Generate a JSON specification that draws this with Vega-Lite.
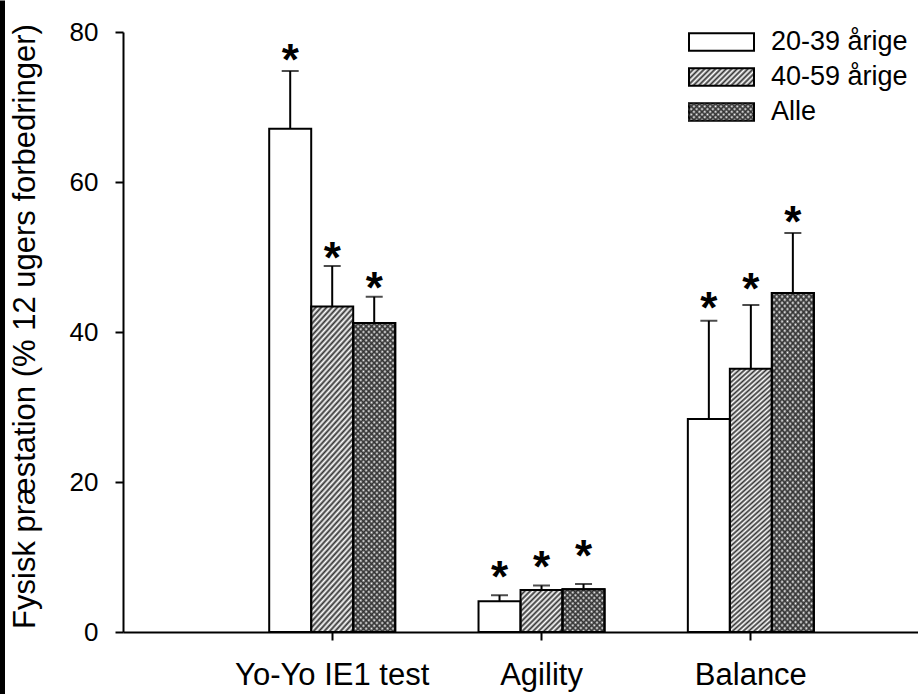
{
"$schema": "https://vega.github.io/schema/vega-lite/v6.json",
"width": 795, "height": 600,
"autosize": {"type": "none"},
"padding": {"left": 123, "top": 32, "right": 0, "bottom": 62},
"background": "white",
"data": {"values": [
 {"cat": "Yo-Yo IE1 test", "series": "20-39 årige", "value": 67.1, "upper": 74.8, "star": 77.6},
 {"cat": "Yo-Yo IE1 test", "series": "40-59 årige", "value": 43.4, "upper": 48.8, "star": 51.2},
 {"cat": "Yo-Yo IE1 test", "series": "Alle", "value": 41.2, "upper": 44.7, "star": 47.2},
 {"cat": "Agility", "series": "20-39 årige", "value": 4.1, "upper": 4.9, "star": 8.7},
 {"cat": "Agility", "series": "40-59 årige", "value": 5.6, "upper": 6.2, "star": 10.0},
 {"cat": "Agility", "series": "Alle", "value": 5.7, "upper": 6.4, "star": 11.5},
 {"cat": "Balance", "series": "20-39 årige", "value": 28.4, "upper": 41.5, "star": 44.5},
 {"cat": "Balance", "series": "40-59 årige", "value": 35.1, "upper": 43.6, "star": 47.1},
 {"cat": "Balance", "series": "Alle", "value": 45.2, "upper": 53.2, "star": 56.0}
]},
"layer": [
{
"layer": [
 {
  "mark": {"type": "bar", "stroke": "black", "strokeWidth": 2},
  "encoding": {
   "x": {"field": "cat", "type": "nominal", "scale": {"domain": ["Yo-Yo IE1 test", "Agility", "Balance"], "paddingInner": 0.398, "paddingOuter": 0.598, "align": 0.584},
     "axis": {"title": null, "labelAngle": 0, "labelFontSize": 31, "labelLimit": 400, "labelPadding": 20, "tickSize": 8, "tickWidth": 2, "tickColor": "black", "domainColor": "black", "domainWidth": 2, "labelColor": "black"}},
   "xOffset": {"field": "series", "type": "nominal", "scale": {"domain": ["20-39 årige", "40-59 årige", "Alle"], "paddingInner": 0, "paddingOuter": 0}},
   "y": {"field": "value", "type": "quantitative", "scale": {"domain": [0, 80], "nice": false},
     "axis": {"values": [0, 20, 40, 60, 80], "title": "Fysisk præstation (% 12 ugers forbedringer)", "titleFontSize": 31, "titleFontWeight": "normal", "titleAngle": 270, "titleX": -98, "titleY": 294, "titleAlign": "center", "titleBaseline": "middle", "labelFontSize": 26, "labelPadding": 17, "tickSize": 8, "tickWidth": 2, "tickColor": "black", "domainColor": "black", "domainWidth": 2, "labelColor": "black", "grid": false}},
   "fill": {
     "condition": [
      {"test": "datum.series !== '20-39 årige' && datum.cat === 'Agility'", "value": {"gradient": "linear", "x1": 0, "y1": 0, "x2": 4, "y2": 4, "stops": [{"offset":0,"color":"#333"},{"offset":0.008,"color":"#3330"},{"offset":0.016,"color":"#333"},{"offset":0.024,"color":"#3330"},{"offset":0.032,"color":"#333"},{"offset":0.04,"color":"#3330"},{"offset":0.048,"color":"#333"},{"offset":0.056,"color":"#3330"},{"offset":0.064,"color":"#333"},{"offset":0.072,"color":"#3330"},{"offset":0.08,"color":"#333"},{"offset":0.088,"color":"#3330"},{"offset":0.096,"color":"#333"},{"offset":0.104,"color":"#3330"},{"offset":0.112,"color":"#333"},{"offset":0.12,"color":"#3330"},{"offset":0.128,"color":"#333"},{"offset":0.136,"color":"#3330"},{"offset":0.144,"color":"#333"},{"offset":0.152,"color":"#3330"},{"offset":0.16,"color":"#333"},{"offset":0.168,"color":"#3330"},{"offset":0.176,"color":"#333"},{"offset":0.184,"color":"#3330"},{"offset":0.192,"color":"#333"},{"offset":0.2,"color":"#3330"},{"offset":0.208,"color":"#333"},{"offset":0.216,"color":"#3330"},{"offset":0.224,"color":"#333"},{"offset":0.232,"color":"#3330"},{"offset":0.24,"color":"#333"},{"offset":0.248,"color":"#3330"},{"offset":0.256,"color":"#333"}]}},
      {"test": "datum.series !== '20-39 årige'", "value": {"gradient": "linear", "x1": 0, "y1": 0, "x2": 0.16, "y2": 1.12, "stops": [{"offset":0,"color":"#333"},{"offset":0.008,"color":"#3330"},{"offset":0.016,"color":"#333"},{"offset":0.024,"color":"#3330"},{"offset":0.032,"color":"#333"},{"offset":0.04,"color":"#3330"},{"offset":0.048,"color":"#333"},{"offset":0.056,"color":"#3330"},{"offset":0.064,"color":"#333"},{"offset":0.072,"color":"#3330"},{"offset":0.08,"color":"#333"},{"offset":0.088,"color":"#3330"},{"offset":0.096,"color":"#333"},{"offset":0.104,"color":"#3330"},{"offset":0.112,"color":"#333"},{"offset":0.12,"color":"#3330"},{"offset":0.128,"color":"#333"},{"offset":0.136,"color":"#3330"},{"offset":0.144,"color":"#333"},{"offset":0.152,"color":"#3330"},{"offset":0.16,"color":"#333"},{"offset":0.168,"color":"#3330"},{"offset":0.176,"color":"#333"},{"offset":0.184,"color":"#3330"},{"offset":0.192,"color":"#333"},{"offset":0.2,"color":"#3330"},{"offset":0.208,"color":"#333"},{"offset":0.216,"color":"#3330"},{"offset":0.224,"color":"#333"},{"offset":0.232,"color":"#3330"},{"offset":0.24,"color":"#333"},{"offset":0.248,"color":"#3330"},{"offset":0.256,"color":"#333"},{"offset":0.264,"color":"#3330"},{"offset":0.272,"color":"#333"},{"offset":0.28,"color":"#3330"},{"offset":0.288,"color":"#333"},{"offset":0.296,"color":"#3330"},{"offset":0.304,"color":"#333"},{"offset":0.312,"color":"#3330"},{"offset":0.32,"color":"#333"},{"offset":0.328,"color":"#3330"},{"offset":0.336,"color":"#333"},{"offset":0.344,"color":"#3330"},{"offset":0.352,"color":"#333"},{"offset":0.36,"color":"#3330"},{"offset":0.368,"color":"#333"},{"offset":0.376,"color":"#3330"},{"offset":0.384,"color":"#333"},{"offset":0.392,"color":"#3330"},{"offset":0.4,"color":"#333"},{"offset":0.408,"color":"#3330"},{"offset":0.416,"color":"#333"},{"offset":0.424,"color":"#3330"},{"offset":0.432,"color":"#333"},{"offset":0.44,"color":"#3330"},{"offset":0.448,"color":"#333"},{"offset":0.456,"color":"#3330"},{"offset":0.464,"color":"#333"},{"offset":0.472,"color":"#3330"},{"offset":0.48,"color":"#333"},{"offset":0.488,"color":"#3330"},{"offset":0.496,"color":"#333"},{"offset":0.504,"color":"#3330"},{"offset":0.512,"color":"#333"},{"offset":0.52,"color":"#3330"},{"offset":0.528,"color":"#333"},{"offset":0.536,"color":"#3330"},{"offset":0.544,"color":"#333"},{"offset":0.552,"color":"#3330"},{"offset":0.56,"color":"#333"},{"offset":0.568,"color":"#3330"},{"offset":0.576,"color":"#333"},{"offset":0.584,"color":"#3330"},{"offset":0.592,"color":"#333"},{"offset":0.6,"color":"#3330"},{"offset":0.608,"color":"#333"},{"offset":0.616,"color":"#3330"},{"offset":0.624,"color":"#333"},{"offset":0.632,"color":"#3330"},{"offset":0.64,"color":"#333"},{"offset":0.648,"color":"#3330"},{"offset":0.656,"color":"#333"},{"offset":0.664,"color":"#3330"},{"offset":0.672,"color":"#333"},{"offset":0.68,"color":"#3330"},{"offset":0.688,"color":"#333"},{"offset":0.696,"color":"#3330"},{"offset":0.704,"color":"#333"},{"offset":0.712,"color":"#3330"},{"offset":0.72,"color":"#333"},{"offset":0.728,"color":"#3330"},{"offset":0.736,"color":"#333"},{"offset":0.744,"color":"#3330"},{"offset":0.752,"color":"#333"},{"offset":0.76,"color":"#3330"},{"offset":0.768,"color":"#333"},{"offset":0.776,"color":"#3330"},{"offset":0.784,"color":"#333"},{"offset":0.792,"color":"#3330"},{"offset":0.8,"color":"#333"},{"offset":0.808,"color":"#3330"},{"offset":0.816,"color":"#333"},{"offset":0.824,"color":"#3330"},{"offset":0.832,"color":"#333"},{"offset":0.84,"color":"#3330"},{"offset":0.848,"color":"#333"},{"offset":0.856,"color":"#3330"},{"offset":0.864,"color":"#333"},{"offset":0.872,"color":"#3330"},{"offset":0.88,"color":"#333"},{"offset":0.888,"color":"#3330"},{"offset":0.896,"color":"#333"},{"offset":0.904,"color":"#3330"},{"offset":0.912,"color":"#333"},{"offset":0.92,"color":"#3330"},{"offset":0.928,"color":"#333"},{"offset":0.936,"color":"#3330"},{"offset":0.944,"color":"#333"},{"offset":0.952,"color":"#3330"},{"offset":0.96,"color":"#333"},{"offset":0.968,"color":"#3330"},{"offset":0.976,"color":"#333"},{"offset":0.984,"color":"#3330"},{"offset":0.992,"color":"#333"},{"offset":1,"color":"#3330"}]}}
     ],
     "value": "white"
   }
  }
 },
 {
  "transform": [{"filter": "datum.series === 'Alle'"}],
  "mark": {"type": "bar", "stroke": "black", "strokeWidth": 2},
  "encoding": {
   "x": {"field": "cat", "type": "nominal"},
   "xOffset": {"field": "series", "type": "nominal"},
   "y": {"field": "value", "type": "quantitative"},
   "fill": {
     "condition": {"test": "datum.cat === 'Agility'", "value": {"gradient": "linear", "x1": 1, "y1": 0, "x2": -3, "y2": 4, "stops": [{"offset":0,"color":"#333"},{"offset":0.008,"color":"#3330"},{"offset":0.016,"color":"#333"},{"offset":0.024,"color":"#3330"},{"offset":0.032,"color":"#333"},{"offset":0.04,"color":"#3330"},{"offset":0.048,"color":"#333"},{"offset":0.056,"color":"#3330"},{"offset":0.064,"color":"#333"},{"offset":0.072,"color":"#3330"},{"offset":0.08,"color":"#333"},{"offset":0.088,"color":"#3330"},{"offset":0.096,"color":"#333"},{"offset":0.104,"color":"#3330"},{"offset":0.112,"color":"#333"},{"offset":0.12,"color":"#3330"},{"offset":0.128,"color":"#333"},{"offset":0.136,"color":"#3330"},{"offset":0.144,"color":"#333"},{"offset":0.152,"color":"#3330"},{"offset":0.16,"color":"#333"},{"offset":0.168,"color":"#3330"},{"offset":0.176,"color":"#333"},{"offset":0.184,"color":"#3330"},{"offset":0.192,"color":"#333"},{"offset":0.2,"color":"#3330"},{"offset":0.208,"color":"#333"},{"offset":0.216,"color":"#3330"},{"offset":0.224,"color":"#333"},{"offset":0.232,"color":"#3330"},{"offset":0.24,"color":"#333"},{"offset":0.248,"color":"#3330"},{"offset":0.256,"color":"#333"}]}},
     "value": {"gradient": "linear", "x1": 1, "y1": 0, "x2": 0.84, "y2": 1.12, "stops": [{"offset":0,"color":"#333"},{"offset":0.008,"color":"#3330"},{"offset":0.016,"color":"#333"},{"offset":0.024,"color":"#3330"},{"offset":0.032,"color":"#333"},{"offset":0.04,"color":"#3330"},{"offset":0.048,"color":"#333"},{"offset":0.056,"color":"#3330"},{"offset":0.064,"color":"#333"},{"offset":0.072,"color":"#3330"},{"offset":0.08,"color":"#333"},{"offset":0.088,"color":"#3330"},{"offset":0.096,"color":"#333"},{"offset":0.104,"color":"#3330"},{"offset":0.112,"color":"#333"},{"offset":0.12,"color":"#3330"},{"offset":0.128,"color":"#333"},{"offset":0.136,"color":"#3330"},{"offset":0.144,"color":"#333"},{"offset":0.152,"color":"#3330"},{"offset":0.16,"color":"#333"},{"offset":0.168,"color":"#3330"},{"offset":0.176,"color":"#333"},{"offset":0.184,"color":"#3330"},{"offset":0.192,"color":"#333"},{"offset":0.2,"color":"#3330"},{"offset":0.208,"color":"#333"},{"offset":0.216,"color":"#3330"},{"offset":0.224,"color":"#333"},{"offset":0.232,"color":"#3330"},{"offset":0.24,"color":"#333"},{"offset":0.248,"color":"#3330"},{"offset":0.256,"color":"#333"},{"offset":0.264,"color":"#3330"},{"offset":0.272,"color":"#333"},{"offset":0.28,"color":"#3330"},{"offset":0.288,"color":"#333"},{"offset":0.296,"color":"#3330"},{"offset":0.304,"color":"#333"},{"offset":0.312,"color":"#3330"},{"offset":0.32,"color":"#333"},{"offset":0.328,"color":"#3330"},{"offset":0.336,"color":"#333"},{"offset":0.344,"color":"#3330"},{"offset":0.352,"color":"#333"},{"offset":0.36,"color":"#3330"},{"offset":0.368,"color":"#333"},{"offset":0.376,"color":"#3330"},{"offset":0.384,"color":"#333"},{"offset":0.392,"color":"#3330"},{"offset":0.4,"color":"#333"},{"offset":0.408,"color":"#3330"},{"offset":0.416,"color":"#333"},{"offset":0.424,"color":"#3330"},{"offset":0.432,"color":"#333"},{"offset":0.44,"color":"#3330"},{"offset":0.448,"color":"#333"},{"offset":0.456,"color":"#3330"},{"offset":0.464,"color":"#333"},{"offset":0.472,"color":"#3330"},{"offset":0.48,"color":"#333"},{"offset":0.488,"color":"#3330"},{"offset":0.496,"color":"#333"},{"offset":0.504,"color":"#3330"},{"offset":0.512,"color":"#333"},{"offset":0.52,"color":"#3330"},{"offset":0.528,"color":"#333"},{"offset":0.536,"color":"#3330"},{"offset":0.544,"color":"#333"},{"offset":0.552,"color":"#3330"},{"offset":0.56,"color":"#333"},{"offset":0.568,"color":"#3330"},{"offset":0.576,"color":"#333"},{"offset":0.584,"color":"#3330"},{"offset":0.592,"color":"#333"},{"offset":0.6,"color":"#3330"},{"offset":0.608,"color":"#333"},{"offset":0.616,"color":"#3330"},{"offset":0.624,"color":"#333"},{"offset":0.632,"color":"#3330"},{"offset":0.64,"color":"#333"},{"offset":0.648,"color":"#3330"},{"offset":0.656,"color":"#333"},{"offset":0.664,"color":"#3330"},{"offset":0.672,"color":"#333"},{"offset":0.68,"color":"#3330"},{"offset":0.688,"color":"#333"},{"offset":0.696,"color":"#3330"},{"offset":0.704,"color":"#333"},{"offset":0.712,"color":"#3330"},{"offset":0.72,"color":"#333"},{"offset":0.728,"color":"#3330"},{"offset":0.736,"color":"#333"},{"offset":0.744,"color":"#3330"},{"offset":0.752,"color":"#333"},{"offset":0.76,"color":"#3330"},{"offset":0.768,"color":"#333"},{"offset":0.776,"color":"#3330"},{"offset":0.784,"color":"#333"},{"offset":0.792,"color":"#3330"},{"offset":0.8,"color":"#333"},{"offset":0.808,"color":"#3330"},{"offset":0.816,"color":"#333"},{"offset":0.824,"color":"#3330"},{"offset":0.832,"color":"#333"},{"offset":0.84,"color":"#3330"},{"offset":0.848,"color":"#333"},{"offset":0.856,"color":"#3330"},{"offset":0.864,"color":"#333"},{"offset":0.872,"color":"#3330"},{"offset":0.88,"color":"#333"},{"offset":0.888,"color":"#3330"},{"offset":0.896,"color":"#333"},{"offset":0.904,"color":"#3330"},{"offset":0.912,"color":"#333"},{"offset":0.92,"color":"#3330"},{"offset":0.928,"color":"#333"},{"offset":0.936,"color":"#3330"},{"offset":0.944,"color":"#333"},{"offset":0.952,"color":"#3330"},{"offset":0.96,"color":"#333"},{"offset":0.968,"color":"#3330"},{"offset":0.976,"color":"#333"},{"offset":0.984,"color":"#3330"},{"offset":0.992,"color":"#333"},{"offset":1,"color":"#3330"}]}
   }
  }
 },
 {
  "mark": {"type": "rule", "color": "black", "strokeWidth": 2},
  "encoding": {
   "x": {"field": "cat", "type": "nominal"},
   "xOffset": {"field": "series", "type": "nominal"},
   "y": {"field": "value", "type": "quantitative"},
   "y2": {"field": "upper"}
  }
 },
 {
  "mark": {"type": "tick", "color": "black", "thickness": 2, "size": 17},
  "encoding": {
   "x": {"field": "cat", "type": "nominal"},
   "xOffset": {"field": "series", "type": "nominal"},
   "y": {"field": "upper", "type": "quantitative"}
  }
 },
 {
  "mark": {"type": "text", "text": "*", "fontSize": 44, "fontWeight": "bold", "font": "Liberation Sans", "color": "black", "baseline": "alphabetic", "dy": 25},
  "encoding": {
   "x": {"field": "cat", "type": "nominal"},
   "xOffset": {"field": "series", "type": "nominal"},
   "y": {"field": "star", "type": "quantitative"}
  }
 },
 {
  "transform": [{"filter": "false"}],
  "mark": {"type": "bar", "fill": "white", "stroke": "black", "strokeWidth": 2},
  "encoding": {
   "x": {"field": "cat", "type": "nominal"},
   "y": {"field": "value", "type": "quantitative"},
   "opacity": {"field": "series", "type": "nominal",
     "scale": {"domain": ["20-39 årige"], "range": [1]},
     "legend": {"orient": "none", "legendX": 565, "legendY": -7.5, "title": null, "padding": 0,
       "symbolType": "M-1,-0.27H1V0.27H-1Z", "symbolSize": 4225, "symbolStrokeWidth": 2,
       "labelFontSize": 27, "labelColor": "black", "labelOffset": 16, "clipHeight": 35, "rowPadding": 0}
   }
  }
 },
 {
  "transform": [{"filter": "false"}],
  "mark": {"type": "bar", "stroke": "black", "strokeWidth": 2, "fill": {"gradient": "linear", "x1": 0, "y1": 0, "x2": 4.85, "y2": 1.315, "stops": [{"offset":0,"color":"#333"},{"offset":0.008,"color":"#3330"},{"offset":0.016,"color":"#333"},{"offset":0.024,"color":"#3330"},{"offset":0.032,"color":"#333"},{"offset":0.04,"color":"#3330"},{"offset":0.048,"color":"#333"},{"offset":0.056,"color":"#3330"},{"offset":0.064,"color":"#333"},{"offset":0.072,"color":"#3330"},{"offset":0.08,"color":"#333"},{"offset":0.088,"color":"#3330"},{"offset":0.096,"color":"#333"},{"offset":0.104,"color":"#3330"},{"offset":0.112,"color":"#333"},{"offset":0.12,"color":"#3330"},{"offset":0.128,"color":"#333"},{"offset":0.136,"color":"#3330"},{"offset":0.144,"color":"#333"},{"offset":0.152,"color":"#3330"},{"offset":0.16,"color":"#333"},{"offset":0.168,"color":"#3330"},{"offset":0.176,"color":"#333"},{"offset":0.184,"color":"#3330"},{"offset":0.192,"color":"#333"},{"offset":0.2,"color":"#3330"},{"offset":0.208,"color":"#333"},{"offset":0.216,"color":"#3330"},{"offset":0.224,"color":"#333"},{"offset":0.232,"color":"#3330"},{"offset":0.24,"color":"#333"},{"offset":0.248,"color":"#3330"},{"offset":0.256,"color":"#333"}]}},
  "encoding": {
   "x": {"field": "cat", "type": "nominal"},
   "y": {"field": "value", "type": "quantitative"},
   "opacity": {"field": "series", "type": "nominal",
     "scale": {"domain": ["40-59 årige", "Alle"], "range": [1, 1]},
     "legend": {"orient": "none", "legendX": 565, "legendY": 27.5, "title": null, "padding": 0,
       "symbolType": "M-1,-0.27H1V0.27H-1Z", "symbolSize": 4225, "symbolStrokeWidth": 2,
       "labelFontSize": 27, "labelColor": "black", "labelOffset": 16, "clipHeight": 35, "rowPadding": 0}
   }
  }
 },
 {
  "transform": [{"filter": "false"}],
  "mark": {"type": "bar", "strokeWidth": 0, "fill": {"gradient": "linear", "x1": 1, "y1": 0, "x2": -3.85, "y2": 1.315, "stops": [{"offset":0,"color":"#333"},{"offset":0.008,"color":"#3330"},{"offset":0.016,"color":"#333"},{"offset":0.024,"color":"#3330"},{"offset":0.032,"color":"#333"},{"offset":0.04,"color":"#3330"},{"offset":0.048,"color":"#333"},{"offset":0.056,"color":"#3330"},{"offset":0.064,"color":"#333"},{"offset":0.072,"color":"#3330"},{"offset":0.08,"color":"#333"},{"offset":0.088,"color":"#3330"},{"offset":0.096,"color":"#333"},{"offset":0.104,"color":"#3330"},{"offset":0.112,"color":"#333"},{"offset":0.12,"color":"#3330"},{"offset":0.128,"color":"#333"},{"offset":0.136,"color":"#3330"},{"offset":0.144,"color":"#333"},{"offset":0.152,"color":"#3330"},{"offset":0.16,"color":"#333"},{"offset":0.168,"color":"#3330"},{"offset":0.176,"color":"#333"},{"offset":0.184,"color":"#3330"},{"offset":0.192,"color":"#333"},{"offset":0.2,"color":"#3330"},{"offset":0.208,"color":"#333"},{"offset":0.216,"color":"#3330"},{"offset":0.224,"color":"#333"},{"offset":0.232,"color":"#3330"},{"offset":0.24,"color":"#333"},{"offset":0.248,"color":"#3330"},{"offset":0.256,"color":"#333"}]}},
  "encoding": {
   "x": {"field": "cat", "type": "nominal"},
   "y": {"field": "value", "type": "quantitative"},
   "opacity": {"field": "series", "type": "nominal",
     "scale": {"domain": ["Alle"], "range": [1]},
     "legend": {"orient": "none", "legendX": 565, "legendY": 62.5, "title": null, "padding": 0,
       "symbolType": "M-1,-0.27H1V0.27H-1Z", "symbolSize": 4225, "symbolStrokeWidth": 0,
       "labelFontSize": 27, "labelExpr": "''", "labelOffset": 16, "clipHeight": 35, "rowPadding": 0}
   }
  }
 }
],
"resolve": {"scale": {"opacity": "independent"}, "legend": {"opacity": "independent"}}
},
{
 "mark": {"type": "rule", "opacity": 0},
 "encoding": {
  "y": {"datum": 0, "type": "quantitative", "scale": {"domain": [0, 1], "range": [662, -32], "zero": false, "nice": false},
    "axis": {"orient": "left", "offset": 121, "domainWidth": 5, "domainColor": "black", "ticks": false, "labels": false, "title": null, "grid": false}}
 }
}
],
"resolve": {"scale": {"y": "independent"}, "axis": {"y": "independent"}},
"config": {
 "font": "Liberation Sans",
 "view": {"stroke": null},
 "axis": {"labelFont": "Liberation Sans", "titleFont": "Liberation Sans", "grid": false},
 "legend": {"labelFont": "Liberation Sans"}
}
}
